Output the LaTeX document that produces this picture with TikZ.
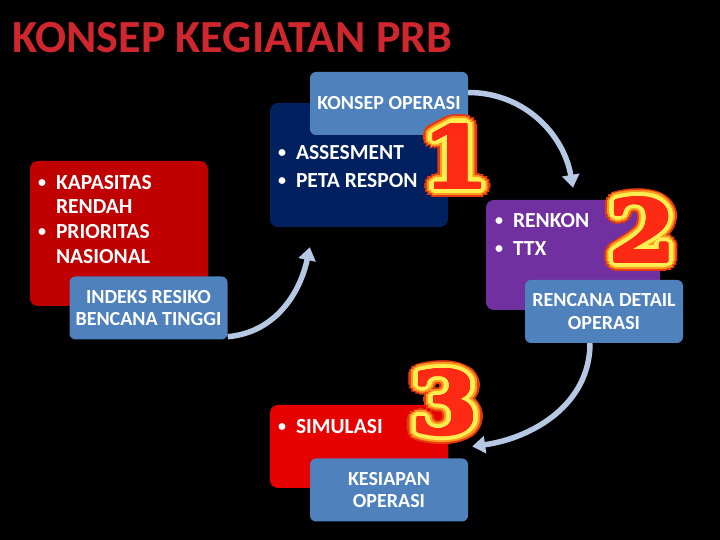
\documentclass[tikz,border=0pt]{standalone}
\usepackage{fontspec}
\setmainfont{Carlito}
\newfontfamily\digitfont{DejaVu Serif}
\usetikzlibrary{arrows.meta}

\definecolor{titlered}{HTML}{D0262E}
\definecolor{boxdarkred}{HTML}{C00000}
\definecolor{boxnavy}{HTML}{002060}
\definecolor{boxpurple}{HTML}{7030A0}
\definecolor{boxred}{HTML}{E60000}
\definecolor{tagblue}{HTML}{4F81BD}
\definecolor{flowblue}{HTML}{B7C8E4}
\definecolor{glowouter}{HTML}{E83A10}
\definecolor{glowmid}{HTML}{FF9A20}
\definecolor{glowyellow}{HTML}{FFEE50}
\definecolor{digitred}{HTML}{FF2A14}

\newcommand{\blt}{\llap{\raisebox{1.5pt}{\fontsize{16}{16}\selectfont\textbullet}\hspace{10pt}}}

% big numeral with a yellow/orange halo
\newcommand{\glowdigit}[3]{% #1 name, #2 position, #3 digit
  \foreach \rad/\col in {9.5pt/glowouter, 7.5pt/glowmid, 5.5pt/glowyellow, 4pt/glowyellow,
                         2.5pt/glowyellow, 1.2pt/digitred}
    \foreach \ang in {0,22.5,...,337.5}
      \node[numeral, text=\col, shift={(\ang:\rad)}] at #2 {#3};
  \node[numeral, text=digitred] (#1) at #2 {#3};
}

\begin{document}
\begin{tikzpicture}[x=1pt, y=1pt,
  panel/.style={rounded corners=8pt, minimum width=178pt, inner sep=0pt},
  tagbox/.style={fill=tagblue, rounded corners=6pt, minimum width=158pt, minimum height=63pt,
    inner sep=0pt, text=white, align=center, font=\fontsize{20}{22.5}\selectfont\bfseries},
  bultext/.style={anchor=north west, inner sep=0pt, text=white, align=left,
    font=\fontsize{21.5}{24.7}\selectfont\bfseries},
  flow/.style={draw=flowblue, line width=5.5pt, -{Triangle[width=17pt,length=13pt]}},
  numeral/.style={inner sep=0pt, xscale=1.12, transform shape,
    font=\digitfont\bfseries\fontsize{86}{86}\selectfont}
]
  \fill[black] (0,0) rectangle (720,540);
  \node[anchor=base west, inner sep=0pt, text=titlered,
    font=\fontsize{46}{46}\selectfont\bfseries] (title) at (12,487) {KONSEP KEGIATAN PRB};

  % ===== panels =====
  \node[panel, fill=boxdarkred, minimum height=145pt] (risk)  at (119,306.5) {};
  \node[panel, fill=boxnavy,    minimum height=124pt] (ops)   at (359,375)   {};
  \node[panel, fill=boxpurple,  minimum height=110pt, minimum width=174pt] (plan) at (573,285) {};
  \node[panel, fill=boxred,     minimum height=83pt]  (drill) at (359,93.5)  {};

  \node[bultext] (risktxt) at ([shift={(26,-14)}]risk.north west)
    {\blt KAPASITAS\\RENDAH\\\blt PRIORITAS\\NASIONAL};
  \node[bultext] (opstxt) at ([shift={(26,-42)}]ops.north west)
    {\blt ASSESMENT\\[3.3pt]\blt PETA RESPON};
  \node[bultext] (plantxt) at ([shift={(27,-13)}]plan.north west)
    {\blt RENKON\\[3.3pt]\blt TTX};
  \node[bultext] (drilltxt) at ([shift={(26,-14)}]drill.north west)
    {\blt SIMULASI};

  % ===== labels =====
  \node[tagbox] (irb) at (148.5,232) {INDEKS RESIKO\\BENCANA TINGGI};
  \node[tagbox] (kop) at (389,436.5) {KONSEP OPERASI};
  \node[tagbox] (rdo) at (604,228.5) {RENCANA DETAIL\\OPERASI};
  \node[tagbox] (kso) at (389,50)    {KESIAPAN\\OPERASI};

  % ===== numerals =====
  \glowdigit{one}{(456,383.5)}{1}
  \glowdigit{two}{(642.5,310)}{2}
  \glowdigit{three}{(445,137.5)}{3}

  % ===== cycle arrows =====
  \draw[flow] ([yshift=11pt]kop.east) to[out=0, in=100] ([yshift=12pt]plan.north);
  \draw[flow] ([xshift=-14pt]rdo.south) to[out=-90, in=8] ([xshift=24pt]drill.east);
  \draw[flow] ([yshift=3pt]irb.south east) to[out=5, in=-102] ([shift={(40,-20)}]ops.south west);
\end{tikzpicture}
\end{document}
